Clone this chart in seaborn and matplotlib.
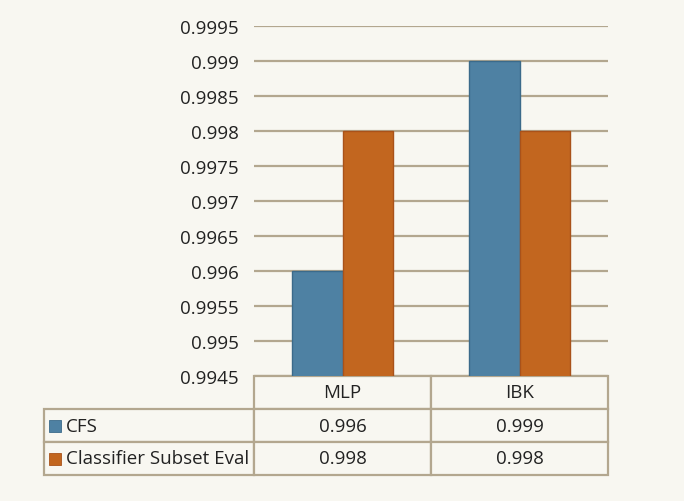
import matplotlib
matplotlib.use("Agg")
import matplotlib.pyplot as plt
from matplotlib.patches import Rectangle
from matplotlib.table import Table
from matplotlib.ticker import FuncFormatter, MultipleLocator
import pandas as pd
import seaborn as sns

# --- Data ---
models = ["MLP", "IBK"]
methods = ["CFS", "Classifier Subset Eval"]
cfs_scores = [0.996, 0.999]
cse_scores = [0.998, 0.998]
y_min, y_max, y_step = 0.9945, 0.9995, 0.0005

BG = "#f8f7f1"
GRID = "#b3a78f"
TEXT = "#222222"
colors = ["#4e81a3", "#c2661f"]
edges = ["#3b6a8a", "#a9521a"]
FS = 13.5

df = pd.DataFrame({
    "Model": models * 2,
    "Method": [methods[0]] * len(models) + [methods[1]] * len(models),
    "Score": cfs_scores + cse_scores,
})

sns.set_theme(style="white")
plt.rcParams["font.family"] = ["Open Sans", "DejaVu Sans"]

fig = plt.figure(figsize=(6.84, 5.02), dpi=100, facecolor=BG)
ax = fig.add_axes([254 / 684, 1 - 377 / 502, 354 / 684, 350 / 502])
ax.set_facecolor(BG)

sns.barplot(data=df, x="Model", y="Score", hue="Method", order=models,
            hue_order=methods, palette=colors, saturation=1, width=0.565,
            legend=False, ax=ax, zorder=3)

# darker outline per series
n = len(models)
for i, p in enumerate(ax.patches):
    p.set_edgecolor(edges[i // n])
    p.set_linewidth(1.0)

ax.set_ylim(y_min, y_max)
ax.yaxis.set_major_locator(MultipleLocator(y_step))
ax.yaxis.set_major_formatter(FuncFormatter(lambda v, _: f"{v:.4f}".rstrip("0")))
ax.yaxis.grid(True, color=GRID, linewidth=1.6, zorder=0)
ax.set_axisbelow(True)
ax.tick_params(axis="y", length=0, pad=11, labelsize=FS, labelcolor=TEXT)
ax.set_xticks([])
ax.set_xlabel("")
ax.set_ylabel("")
for s in ax.spines.values():
    s.set_visible(False)

# --- data table under the chart ---
rows = [[f"{v:g}" for v in cfs_scores], [f"{v:g}" for v in cse_scores]]
row_w = 210 / 354
col_w = 1 / len(models)
tb_h = 99 / 350
row_h = tb_h / 3

# bbox covers the value cells only; the label column sits to its left
tbl = Table(ax, bbox=[0, -tb_h, 1, tb_h])
for c, m in enumerate(models):
    tbl.add_cell(0, c, width=col_w, height=row_h, text=m, loc="center")
for r, (label, vals) in enumerate(zip(methods, rows), start=1):
    cell = tbl.add_cell(r, -1, width=row_w, height=row_h, text=label, loc="left")
    cell.PAD = 0.105
    for c, v in enumerate(vals):
        tbl.add_cell(r, c, width=col_w, height=row_h, text=v, loc="center")
tbl.auto_set_font_size(False)
tbl.set_fontsize(FS)
for cell in tbl.get_celld().values():
    cell.set_edgecolor(GRID)
    cell.set_linewidth(1.6)
    cell.set_facecolor(BG)
    cell.get_text().set_color(TEXT)
ax.add_table(tbl)

# legend keys in the row label cells
sq_w, sq_h = 12 / 354, 12 / 350
for i, col in enumerate(colors):
    yc = -row_h * (i + 1.5)
    ax.add_patch(Rectangle((-row_w + 5 / 354, yc - sq_h / 2), sq_w, sq_h,
                           transform=ax.transAxes, facecolor=col,
                           edgecolor=edges[i], linewidth=0.6, clip_on=False,
                           zorder=5))

fig.savefig("out.png", dpi=100, facecolor=BG)
